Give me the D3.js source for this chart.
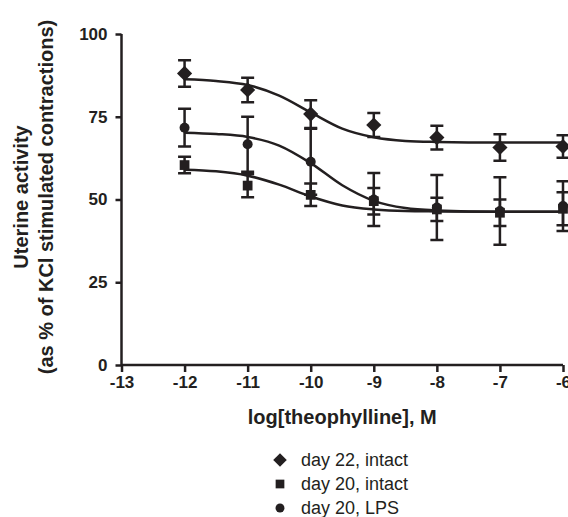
<!DOCTYPE html>
<html>
<head>
<meta charset="utf-8">
<script src="https://cdn.jsdelivr.net/npm/d3@7.9.0/dist/d3.min.js"></script>
<style>
  body { margin: 0; background: #fff; }
  svg { display: block; font-family: "Liberation Sans", Arial, sans-serif; }
</style>
</head>
<body>
<svg id="chart" width="568" height="517"></svg>
<script>
// doses (log M) and tick values
const doses = [-12, -11, -10, -9, -8, -7, -6];
const xTicks = [-13, -12, -11, -10, -9, -8, -7, -6];
const yTicks = [0, 25, 50, 75, 100];

// means and SEM
const day22Mean = [88.1, 83.1, 75.8, 72.5, 68.7, 65.7, 66.0];
const day22Err  = [4.0, 3.7, 4.2, 3.6, 3.6, 4.0, 3.4];
const day20Mean = [60.4, 54.2, 51.4, 49.5, 47.0, 46.0, 47.2];
const day20Err  = [2.5, 3.5, 3.4, 4.0, 3.5, 4.0, 5.0];
const lpsMean   = [71.7, 66.7, 61.4, 50.0, 47.6, 46.5, 48.0];
const lpsErr    = [5.7, 8.3, 10.0, 8.0, 9.8, 10.2, 7.5];

// fitted curves, sampled from the figure
const fitX     = [-12, -11.5, -11, -10.5, -10, -9.5, -9, -8.5, -8, -7, -6];
const day22Fit = [86.3, 85.8, 84.6, 81.4, 76.3, 71.4, 68.8, 67.7, 67.4, 67.2, 67.2];
const day20Fit = [59.0, 58.5, 57.2, 54.5, 50.9, 48.2, 47.0, 46.5, 46.4, 46.3, 46.3];
const lpsFit   = [70.2, 69.8, 68.9, 66.3, 61.0, 54.3, 49.6, 47.4, 46.7, 46.3, 46.3];

const labels = ['day 22, intact', 'day 20, intact', 'day 20, LPS'];

const ink = '#231f20';
const svg = d3.select('#chart');

let x = d3.scaleLinear().domain([-13, -6]).range([121.5, 563]);
let y = d3.scaleLinear().domain([0, 100]).range([365, 34]);

// axes
let xAxis = svg.append('g')
  .attr('transform', `translate(0,${y(0)})`)
  .call(d3.axisBottom(x).tickValues(xTicks).tickSize(7).tickPadding(4).tickFormat(d => d));
let yAxis = svg.append('g')
  .attr('transform', `translate(${x(-13)},0)`)
  .call(d3.axisLeft(y).tickValues(yTicks).tickSize(6).tickPadding(8).tickFormat(d => d));

[xAxis, yAxis].forEach(a => {
  a.select('.domain').attr('stroke', ink).attr('stroke-width', 2.5)
    .attr('d', a === xAxis ? `M${x(-13)},0H${x(-6)}` : `M0,${y(0)}V${y(100)}`);
  a.selectAll('.tick line').attr('stroke', ink).attr('stroke-width', 2.5);
  a.selectAll('.tick text').attr('fill', ink).attr('font-size', 17).attr('font-weight', 'bold');
});

// axis titles
svg.append('text')
  .attr('x', (x(-13) + x(-6)) / 2).attr('y', 424)
  .attr('text-anchor', 'middle').attr('font-size', 20).attr('font-weight', 'bold')
  .attr('fill', ink).text('log[theophylline], M');

let yTitle = svg.append('text')
  .attr('transform', 'translate(0,197) rotate(-90)')
  .attr('text-anchor', 'middle').attr('font-size', 20).attr('font-weight', 'bold')
  .attr('fill', ink);
yTitle.append('tspan').attr('x', 0).attr('y', 28).text('Uterine activity');
yTitle.append('tspan').attr('x', 0).attr('y', 53).text('(as % of KCl stimulated contractions)');

// series
const diamond = d3.symbol().type(d3.symbolSquare);
const series = [
  { mean: day22Mean, err: day22Err, fit: day22Fit, shape: 'diamond' },
  { mean: lpsMean, err: lpsErr, fit: lpsFit, shape: 'circle' },
  { mean: day20Mean, err: day20Err, fit: day20Fit, shape: 'square' }
];

function drawMarker(g, shape, cx, cy, scale) {
  if (shape === 'diamond') {
    g.append('path').attr('d', diamond.size(115 * scale)())
      .attr('transform', `translate(${cx},${cy}) rotate(45)`).attr('fill', ink);
  } else if (shape === 'square') {
    g.append('path').attr('d', d3.symbol().type(d3.symbolSquare).size(95 * scale)())
      .attr('transform', `translate(${cx},${cy})`).attr('fill', ink);
  } else {
    g.append('circle').attr('cx', cx).attr('cy', cy).attr('r', 5 * Math.sqrt(scale)).attr('fill', ink);
  }
}

let line = d3.line().x(d => x(d[0])).y(d => y(d[1])).curve(d3.curveMonotoneX);

series.forEach(s => {
  let g = svg.append('g');
  g.append('path')
    .attr('d', line(fitX.map((v, i) => [v, s.fit[i]])))
    .attr('fill', 'none').attr('stroke', ink).attr('stroke-width', 2.5);

  doses.forEach((d, i) => {
    let cx = x(d), lo = y(s.mean[i] - s.err[i]), hi = y(s.mean[i] + s.err[i]);
    g.append('path')
      .attr('d', `M${cx},${lo}V${hi}M${cx - 6.5},${lo}H${cx + 6.5}M${cx - 6.5},${hi}H${cx + 6.5}`)
      .attr('stroke', ink).attr('stroke-width', 2.5).attr('fill', 'none');
    drawMarker(g, s.shape, cx, y(s.mean[i]), 1);
  });
});

// legend
const legendShapes = ['diamond', 'square', 'circle'];
let legend = svg.append('g');
labels.forEach((lab, i) => {
  let cy = 460 + i * 24;
  drawMarker(legend, legendShapes[i], 280, cy, 0.8);
  legend.append('text').attr('x', 301).attr('y', cy).attr('dy', '0.35em')
    .attr('font-size', 18).attr('fill', ink).text(lab);
});
</script>
</body>
</html>
